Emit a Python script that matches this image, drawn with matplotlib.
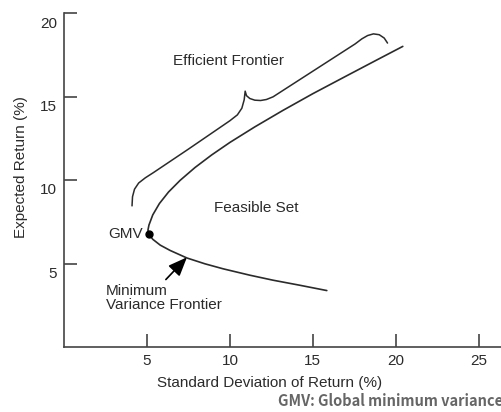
import matplotlib
matplotlib.use("Agg")
import matplotlib.pyplot as plt
from matplotlib.transforms import ScaledTranslation

plt.rcParams['font.family'] = ['Liberation Sans', 'DejaVu Sans']

# Minimum variance frontier (std dev %, expected return %)
frontier_sd = [20.42, 18.8, 17.0, 15.0, 13.2, 11.5, 10.0, 8.9, 7.9, 7.0, 6.3, 5.75, 5.35,
               5.12, 5.06, 5.12, 5.35, 5.8, 6.4, 7.41, 8.5, 9.6, 11.2, 12.6, 14.2, 15.84]
frontier_ret = [18.0, 17.16, 16.22, 15.17, 14.17, 13.18, 12.25, 11.5, 10.75, 9.98, 9.28, 8.59, 7.91,
                7.3, 7.0, 6.75, 6.45, 6.1, 5.78, 5.33, 4.98, 4.68, 4.3, 4.0, 3.7, 3.38]

# Curly brace marking the efficient frontier
brace_sd = [4.10, 4.13, 4.25, 4.5, 4.9, 5.4, 7.5, 10.0, 10.45, 10.72, 10.86, 10.92,
            11.0, 11.2, 11.5, 11.85, 12.2, 12.6, 17.55, 17.95, 18.3, 18.65, 19.0, 19.3, 19.5]
brace_ret = [8.45, 9.0, 9.45, 9.82, 10.13, 10.45, 11.85, 13.55, 13.9, 14.3, 14.8, 15.32,
             15.05, 14.88, 14.78, 14.76, 14.82, 14.98, 18.15, 18.45, 18.65, 18.75, 18.7, 18.5, 18.2]

gmv_sd, gmv_ret = 5.12, 6.75

x_ticks = [5, 10, 15, 20, 25]
y_ticks = [5, 10, 15, 20]

ink = '#2b2b2b'

fig = plt.figure(figsize=(5.02, 4.12), dpi=100)
ax = fig.add_axes([64/502, 1-347/412, 1-64/502, (347-13)/412])
ax.set_xlim(0, 26.4)
ax.set_ylim(0, 20)

ax.plot(frontier_sd, frontier_ret, color=ink, lw=1.2, solid_capstyle='round', solid_joinstyle='round')
ax.plot(brace_sd, brace_ret, color=ink, lw=1.1, solid_capstyle='round', solid_joinstyle='round')
ax.plot([gmv_sd], [gmv_ret], 'o', color='black', ms=5)

ax.spines['top'].set_visible(False)
ax.spines['right'].set_visible(False)
for s in ['left', 'bottom']:
    ax.spines[s].set_color('#444444')
    ax.spines[s].set_linewidth(1.2)

ax.set_xticks(x_ticks)
ax.set_yticks(y_ticks)
ax.tick_params(direction='in', length=9.5, width=1.2, color='#444444',
               labelsize=11, labelcolor=ink, pad=5)

off = ScaledTranslation(0, -9/100, fig.dpi_scale_trans)
for lab in ax.get_yticklabels():
    lab.set_transform(lab.get_transform() + off)

ax.text(9.94, 17.14, 'Efficient Frontier', ha='center', va='center', fontsize=11, color=ink)
ax.text(11.57, 8.3, 'Feasible Set', ha='center', va='center', fontsize=11, color=ink)
ax.text(4.76, 6.75, 'GMV', ha='right', va='center', fontsize=11, color=ink)
ax.text(2.53, 3.8, 'Minimum\nVariance Frontier', ha='left', va='top', fontsize=11,
        color=ink, linespacing=1.05)

ax.annotate('', xy=(7.41, 5.37), xytext=(6.14, 4.04),
            arrowprops=dict(arrowstyle='-|>,head_length=1.15,head_width=0.47', color='black',
                            lw=1.2, shrinkA=0, shrinkB=0))

fig.text(270/502, 1-383/412, 'Standard Deviation of Return (%)', ha='center', va='center',
         fontsize=11, color=ink)
fig.text(21/502, 1-167/412, 'Expected Return (%)', ha='center', va='center',
         rotation=90, fontsize=11, color=ink)
fig.text(278/502, 1-401/412, 'GMV: Global minimum variance', ha='left', va='center',
         fontsize=10.5, color='#666666', family=['Noto Sans CJK SC', 'DejaVu Sans'],
         weight='bold')

fig.savefig('out.png', dpi=100)
